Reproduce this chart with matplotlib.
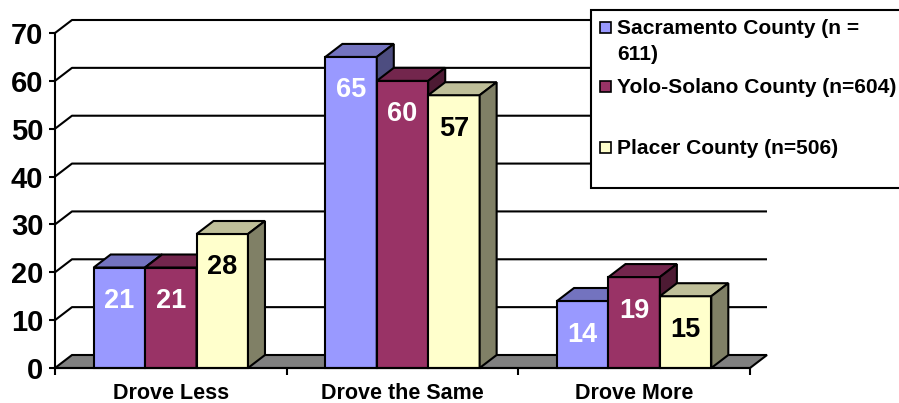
import matplotlib.pyplot as plt
import matplotlib.colors as mcolors
from matplotlib.patches import Polygon, Rectangle

plt.rcParams['font.family'] = ['Liberation Sans', 'DejaVu Sans']
plt.rcParams['font.weight'] = 'bold'

categories = ['Drove Less', 'Drove the Same', 'Drove More']
series = ['Sacramento County (n =\n611)', 'Yolo-Solano County (n=604)', 'Placer County (n=506)']
sacramento = [21, 65, 14]
yolo_solano = [21, 60, 19]
placer = [28, 57, 15]
values = [sacramento, yolo_solano, placer]
colors = ['#9999FF', '#993366', '#FFFFCC']
label_colors = ['white', 'white', 'black']
yticks = [0, 10, 20, 30, 40, 50, 60, 70]

W, H = 899, 403
fig = plt.figure(figsize=(W / 100, H / 100), dpi=100)
ax = fig.add_axes([55 / W, 35 / H, 695 / W, 335 / H])
ax.set_xlim(-0.5, 2.5)
ax.set_ylim(0, 70)

# fake 3d depth in data units
ddx = 17 / 695 * 3
ddy = 13 / 335 * 70
bw = 0.222


def shade(c, f):
    r, g, b = mcolors.to_rgb(c)
    return (r * f, g * f, b * f)


# floor
ax.add_patch(Polygon([(-0.5, 0), (2.5, 0), (2.5 + ddx, ddy), (-0.5 + ddx, ddy)],
                     closed=True, fc='#808080', ec='black', lw=1.5, clip_on=False, zorder=1))
# back wall gridlines
for v in yticks[1:]:
    ax.plot([-0.5, -0.5 + ddx, 2.5 + ddx], [v, v + ddy, v + ddy], color='black', lw=1.5,
            clip_on=False, zorder=1, solid_capstyle='butt')

for i in range(len(categories)):
    for j in range(len(series)):
        v = values[j][i]
        x0 = i + (j - 1.5) * bw
        c = colors[j]
        ax.add_patch(Rectangle((x0, 0), bw, v, fc=c, ec='black', lw=1.5, zorder=3, clip_on=False))
        ax.add_patch(Polygon([(x0, v), (x0 + bw, v), (x0 + bw + ddx, v + ddy), (x0 + ddx, v + ddy)],
                             closed=True, fc=shade(c, 0.75), ec='black', lw=1.5, zorder=3, clip_on=False))
        ax.add_patch(Polygon([(x0 + bw, 0), (x0 + bw + ddx, ddy), (x0 + bw + ddx, v + ddy), (x0 + bw, v)],
                             closed=True, fc=shade(c, 0.5), ec='black', lw=1.5, zorder=3, clip_on=False))
        ax.text(x0 + bw / 2, v - 7, str(v), ha='center', va='center', fontsize=19.5,
                fontweight='bold', color=label_colors[j], zorder=5)

for s in ['top', 'right']:
    ax.spines[s].set_visible(False)
ax.spines['left'].set_linewidth(1.5)
ax.spines['bottom'].set_linewidth(1.5)
ax.spines['left'].set_zorder(4)
ax.spines['bottom'].set_zorder(4)

ax.set_yticks(yticks)
ax.set_yticklabels([str(t) for t in yticks], fontsize=21, fontweight='bold')
ax.tick_params(axis='y', direction='out', length=4.3, width=1.5, pad=4)
ax.set_xticks(range(len(categories)))
ax.set_xticklabels(categories, fontsize=15.5, fontweight='bold')
ax.tick_params(axis='x', which='major', length=0, pad=10.5)
ax.set_xticks([-0.5, 0.5, 1.5, 2.5], minor=True)
ax.tick_params(axis='x', which='minor', direction='out', length=5, width=1.5)


# legend, drawn by hand to mimic the stretched excel box
def fx(px):
    return px / W


def fy(py):
    return 1 - py / H


fig.add_artist(Rectangle((fx(591), fy(188)), fx(W - 591 + 10), 178 / H, transform=fig.transFigure,
                         fc='white', ec='black', lw=1.5, zorder=10))
baselines = [34, 93, 154]
for j, lab in enumerate(series):
    b = baselines[j]
    fig.add_artist(Rectangle((fx(600), fy(b - 1)), 11 / W, 11 / H, transform=fig.transFigure,
                             fc=colors[j], ec='black', lw=1.2, zorder=11))
    for k, line in enumerate(lab.split('\n')):
        fig.text(fx(617), fy(b + 26 * k), line, fontsize=15.1, fontweight='bold',
                 ha='left', va='baseline', zorder=12)

fig.savefig('out.png', dpi=100)
